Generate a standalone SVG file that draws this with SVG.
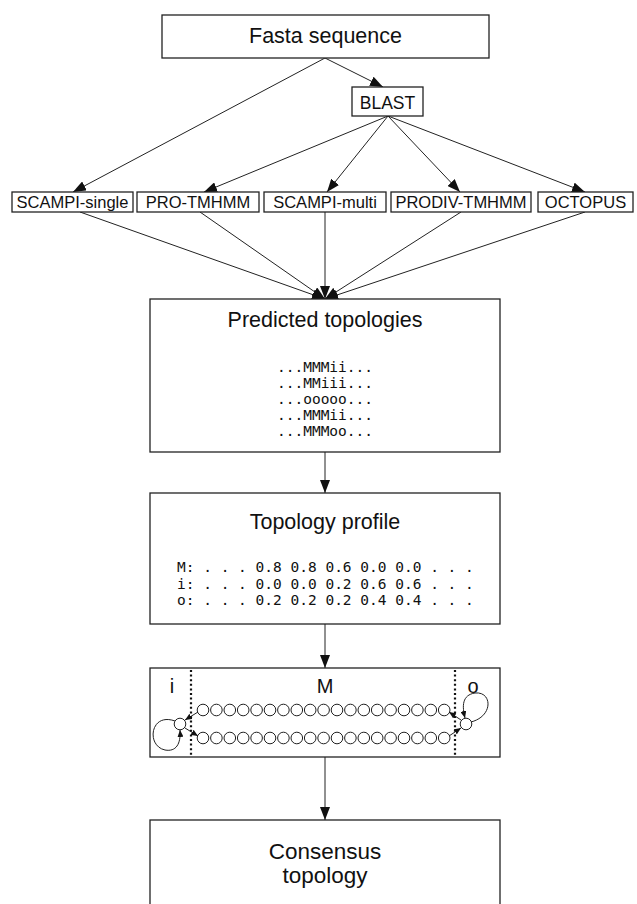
<svg xmlns="http://www.w3.org/2000/svg" width="637" height="904" viewBox="0 0 637 904">
  <style>
    .box { fill: #ffffff; stroke: #222222; stroke-width: 1.3; }
    .lbl { font-family: "Liberation Sans", Arial, sans-serif; fill: #111111; text-anchor: middle; }
    .mono { font-family: "DejaVu Sans Mono", "Liberation Mono", monospace; fill: #111111; font-size: 14.5px; }
    .edge { fill: none; stroke: #222222; stroke-width: 1; }
    .arr { marker-end: url(#head); }
    .sarr { fill: none; stroke: #222222; stroke-width: 1; marker-end: url(#small); }
    .state { fill: #ffffff; stroke: #222222; stroke-width: 1; }
    .dots { stroke: #111111; stroke-width: 2.2; stroke-dasharray: 2 2.6; fill: none; }
  </style>
  <defs>
    <marker id="head" markerUnits="userSpaceOnUse" markerWidth="13" markerHeight="10" refX="13" refY="5" orient="auto">
      <path d="M0,0 L13,5 L0,10 z" fill="#111111"/>
    </marker>
    <marker id="small" markerUnits="userSpaceOnUse" markerWidth="7" markerHeight="6" refX="7" refY="3" orient="auto">
      <path d="M0,0 L7,3 L0,6 z" fill="#111111"/>
    </marker>
    <circle id="st" r="5.8" class="state"/>
  </defs>

  <rect width="637" height="904" fill="#ffffff"/>

  <!-- connectors -->
  <g id="connectors" class="edge">
    <line class="arr" x1="325" y1="58" x2="73" y2="192"/>
    <line class="arr" x1="325" y1="58" x2="383" y2="87"/>
    <line class="arr" x1="388" y1="116" x2="204" y2="192"/>
    <line class="arr" x1="388" y1="116" x2="327" y2="192"/>
    <line class="arr" x1="388" y1="116" x2="460" y2="192"/>
    <line class="arr" x1="388" y1="116" x2="585" y2="192"/>
    <line class="arr" x1="80" y1="212" x2="325" y2="299"/>
    <line class="arr" x1="200" y1="212" x2="325" y2="299"/>
    <line class="arr" x1="325" y1="212" x2="325" y2="299"/>
    <line class="arr" x1="461" y1="212" x2="325" y2="299"/>
    <line class="arr" x1="585" y1="212" x2="325" y2="299"/>
    <line class="arr" x1="325" y1="452" x2="325" y2="493"/>
    <line class="arr" x1="325" y1="624" x2="325" y2="668"/>
    <line class="arr" x1="325" y1="757" x2="325" y2="820"/>
  </g>

  <g id="fasta">
    <rect class="box" x="162" y="15" width="327" height="43"/>
    <text class="lbl" x="325.5" y="42.5" font-size="21.5">Fasta sequence</text>
  </g>

  <g id="blast">
    <rect class="box" x="352" y="87" width="71" height="29"/>
    <text class="lbl" x="387.5" y="108.5" font-size="17.5">BLAST</text>
  </g>

  <g id="scampi-single">
    <rect class="box" x="12" y="192" width="121" height="20"/>
    <text class="lbl" x="72.5" y="207.5" font-size="16.5">SCAMPI-single</text>
  </g>
  <g id="pro-tmhmm">
    <rect class="box" x="137" y="192" width="122" height="20"/>
    <text class="lbl" x="198" y="207.5" font-size="16.5">PRO-TMHMM</text>
  </g>
  <g id="scampi-multi">
    <rect class="box" x="264" y="192" width="122" height="20"/>
    <text class="lbl" x="325" y="207.5" font-size="16.5">SCAMPI-multi</text>
  </g>
  <g id="prodiv-tmhmm">
    <rect class="box" x="391" y="192" width="140" height="20"/>
    <text class="lbl" x="461" y="207.5" font-size="16.5">PRODIV-TMHMM</text>
  </g>
  <g id="octopus">
    <rect class="box" x="538" y="192" width="95" height="20"/>
    <text class="lbl" x="585.5" y="207.5" font-size="16.5">OCTOPUS</text>
  </g>

  <g id="predicted">
    <rect class="box" x="150" y="299" width="350" height="153"/>
    <text class="lbl" x="325" y="327" font-size="21.5">Predicted topologies</text>
    <text class="mono" x="325" text-anchor="middle" y="372">...MMMii...</text>
    <text class="mono" x="325" text-anchor="middle" y="388">...MMiii...</text>
    <text class="mono" x="325" text-anchor="middle" y="404">...ooooo...</text>
    <text class="mono" x="325" text-anchor="middle" y="420">...MMMii...</text>
    <text class="mono" x="325" text-anchor="middle" y="436">...MMMoo...</text>
  </g>

  <g id="profile">
    <rect class="box" x="150" y="493" width="350" height="131"/>
    <text class="lbl" x="325" y="529" font-size="21.5">Topology profile</text>
    <text class="mono" x="177" y="572" xml:space="preserve">M: . . . 0.8 0.8 0.6 0.0 0.0 . . .</text>
    <text class="mono" x="177" y="588.5" xml:space="preserve">i: . . . 0.0 0.0 0.2 0.6 0.6 . . .</text>
    <text class="mono" x="177" y="605" xml:space="preserve">o: . . . 0.2 0.2 0.2 0.4 0.4 . . .</text>
  </g>

  <g id="hmm">
    <rect class="box" x="150" y="668" width="350" height="89"/>
    <line class="dots" x1="191" y1="670" x2="191" y2="757"/>
    <line class="dots" x1="455" y1="670" x2="455" y2="757"/>
    <text class="lbl" x="172" y="693" font-size="20">i</text>
    <text class="lbl" x="325" y="693" font-size="20">M</text>
    <text class="lbl" x="473" y="693" font-size="20">o</text>
    <!-- membrane states, top row runs out-to-in, bottom row in-to-out -->
    <g id="row-top">
      <use href="#st" x="203" y="710"/><use href="#st" x="216.4" y="710"/><use href="#st" x="229.8" y="710"/>
      <use href="#st" x="243.2" y="710"/><use href="#st" x="256.6" y="710"/><use href="#st" x="270" y="710"/>
      <use href="#st" x="283.4" y="710"/><use href="#st" x="296.8" y="710"/><use href="#st" x="310.2" y="710"/>
      <use href="#st" x="323.6" y="710"/><use href="#st" x="337" y="710"/><use href="#st" x="350.4" y="710"/>
      <use href="#st" x="363.8" y="710"/><use href="#st" x="377.2" y="710"/><use href="#st" x="390.6" y="710"/>
      <use href="#st" x="404" y="710"/><use href="#st" x="417.4" y="710"/><use href="#st" x="430.8" y="710"/>
      <use href="#st" x="444.2" y="710"/>
    </g>
    <g id="row-bottom">
      <use href="#st" x="203" y="738"/><use href="#st" x="216.4" y="738"/><use href="#st" x="229.8" y="738"/>
      <use href="#st" x="243.2" y="738"/><use href="#st" x="256.6" y="738"/><use href="#st" x="270" y="738"/>
      <use href="#st" x="283.4" y="738"/><use href="#st" x="296.8" y="738"/><use href="#st" x="310.2" y="738"/>
      <use href="#st" x="323.6" y="738"/><use href="#st" x="337" y="738"/><use href="#st" x="350.4" y="738"/>
      <use href="#st" x="363.8" y="738"/><use href="#st" x="377.2" y="738"/><use href="#st" x="390.6" y="738"/>
      <use href="#st" x="404" y="738"/><use href="#st" x="417.4" y="738"/><use href="#st" x="430.8" y="738"/>
      <use href="#st" x="444.2" y="738"/>
    </g>
    <!-- inside and outside states with self loops -->
    <use href="#st" x="180" y="724"/>
    <use href="#st" x="466" y="724"/>
    <path class="sarr" d="M175,721 C150,712 146,746 165,750 C176,752 181,744 180,730"/>
    <path class="sarr" d="M471,722 C494,716 492,691 475,693 C462,695 462,706 465,718"/>
    <line class="sarr" x1="198" y1="712" x2="185" y2="720"/>
    <line class="sarr" x1="185" y1="728" x2="198" y2="736"/>
    <line class="sarr" x1="449" y1="736" x2="461" y2="728"/>
    <line class="sarr" x1="461" y1="720" x2="449" y2="712"/>
  </g>

  <g id="consensus">
    <rect class="box" x="150" y="820" width="350" height="90"/>
    <text class="lbl" x="325" y="859" font-size="22.5">Consensus</text>
    <text class="lbl" x="325" y="883" font-size="22.5">topology</text>
  </g>
</svg>
